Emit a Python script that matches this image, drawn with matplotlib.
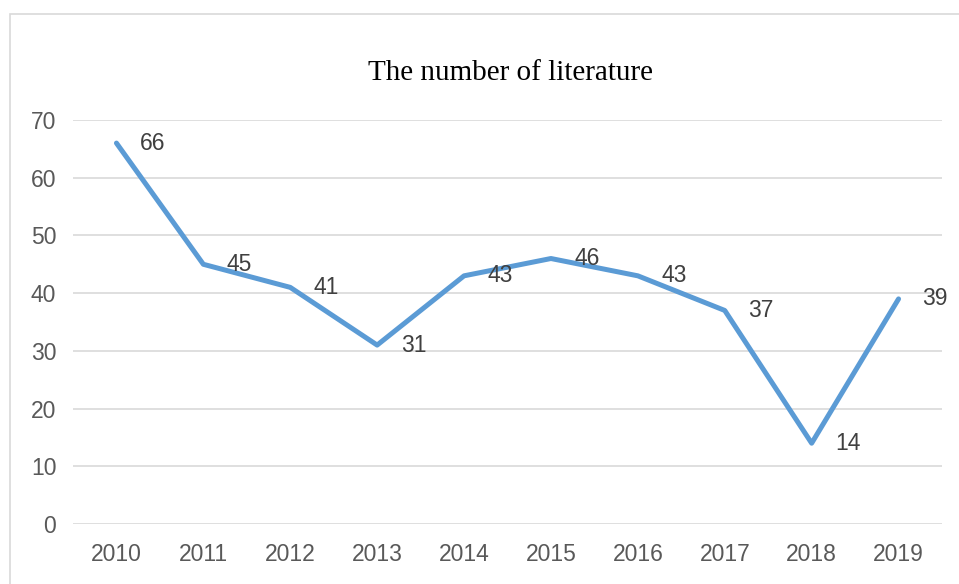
import matplotlib
matplotlib.use("Agg")
import matplotlib.pyplot as plt
from matplotlib.patches import Rectangle

years = ["2010", "2011", "2012", "2013", "2014", "2015", "2016", "2017", "2018", "2019"]
counts = [66, 45, 41, 31, 43, 46, 43, 37, 14, 39]
yticks = [0, 10, 20, 30, 40, 50, 60, 70]
title = "The number of literature"

W, H = 959, 584
fig = plt.figure(figsize=(W / 100, H / 100), dpi=100)
fig.patch.set_facecolor("white")

# outer chart border
fig.add_artist(Rectangle((10 / W, -0.05), 1.1, 1 - 14 / H + 0.05, transform=fig.transFigure,
                         fill=False, edgecolor="#D9D9D9", linewidth=1.2))

ax = fig.add_axes([73 / W, 1 - 524 / H, (942 - 73) / W, (524 - 120) / H])
x = list(range(len(years)))
ax.plot(x, counts, color="#5B9BD5", linewidth=3.6, solid_joinstyle="round", solid_capstyle="round", zorder=3)

for xi, v in zip(x, counts):
    ax.annotate(str(v), (xi, v), xytext=(17, 0), textcoords="offset points",
                ha="left", va="center", fontsize=16.5, color="#404040",
                family="Liberation Sans", zorder=4)

ax.set_xlim(-0.5, len(years) - 0.5)
ax.set_ylim(0, 70)
ax.set_yticks(yticks)
ax.set_xticks(x)
ax.set_xticklabels(years)
ax.grid(axis="y", color="#D9D9D9", linewidth=1.2)
ax.set_axisbelow(True)
for s in ax.spines.values():
    s.set_visible(False)
ax.tick_params(length=0, labelsize=16.5, labelcolor="#595959")
ax.tick_params(axis="x", pad=14)
ax.tick_params(axis="y", pad=12)
for lab in ax.get_xticklabels() + ax.get_yticklabels():
    lab.set_family("Liberation Sans")

fig.text(511 / W, 1 - 73 / H, title, ha="center", va="center", fontsize=21,
         family="Liberation Serif", color="black")

fig.savefig("out.png", dpi=100)
